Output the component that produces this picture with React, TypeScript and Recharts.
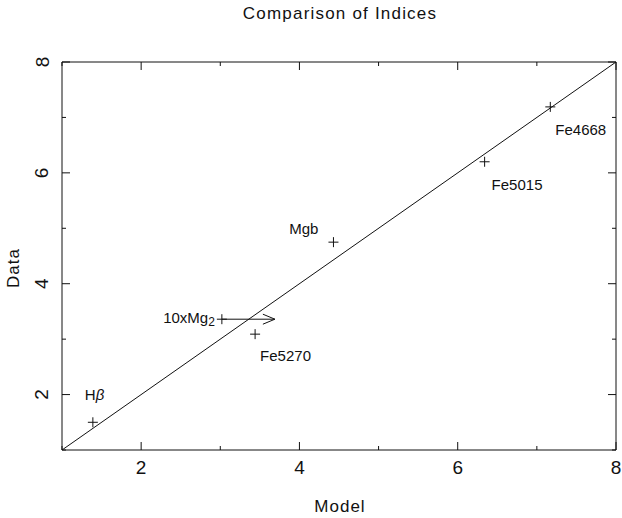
import React from 'react';
import { ComposedChart, Scatter, XAxis, YAxis } from 'recharts';

const indexNames = ['Hβ', '10xMg2', 'Fe5270', 'Mgb', 'Fe5015', 'Fe4668'];
const modelValues = [1.39, 3.02, 3.44, 4.43, 6.34, 7.17];
const dataValues = [1.5, 3.36, 3.09, 4.75, 6.2, 7.19];
const mg2ArrowEnd = 3.69;
const axisTicks = [1, 2, 3, 4, 5, 6, 7, 8];
const axisDomain = [1, 8];

const points = indexNames.map((name, i) => ({ name, x: modelValues[i], y: dataValues[i] }));
const diagonal = [
  { x: axisDomain[0], y: axisDomain[0] },
  { x: axisDomain[1], y: axisDomain[1] },
];
const mgIdx = indexNames.indexOf('10xMg2');
const arrow = [
  { x: modelValues[mgIdx], y: dataValues[mgIdx], head: false },
  { x: mg2ArrowEnd, y: dataValues[mgIdx], head: true },
];

// label placement relative to each cross
const labelPos: Record<string, { dx: number; dy: number; anchor: string }> = {
  'Hβ': { dx: -8, dy: -28, anchor: 'start' },
  '10xMg2': { dx: -7, dy: -2, anchor: 'end' },
  Fe5270: { dx: 5, dy: 21, anchor: 'start' },
  Mgb: { dx: -15, dy: -14, anchor: 'end' },
  Fe5015: { dx: 7, dy: 23, anchor: 'start' },
  Fe4668: { dx: 5, dy: 23, anchor: 'start' },
};

const FONT = '"Liberation Sans", Arial, sans-serif';
const INK = '#111';

const tickLen = (v: number) => (v % 2 === 0 ? 8 : 4);

const BottomTick = (props: any) => {
  const { x, y, payload } = props;
  const v = payload.value;
  return (
    <g>
      <line x1={x} y1={y} x2={x} y2={y - tickLen(v)} stroke={INK} />
      {v % 2 === 0 && (
        <text x={x} y={y + 17} textAnchor="middle" dominantBaseline="central" fontSize={19} fill={INK} fontFamily={FONT}>
          {v}
        </text>
      )}
    </g>
  );
};

const TopTick = (props: any) => {
  const { x, y, payload } = props;
  return <line x1={x} y1={y} x2={x} y2={y + tickLen(payload.value)} stroke={INK} />;
};

const LeftTick = (props: any) => {
  const { x, y, payload } = props;
  const v = payload.value;
  return (
    <g>
      <line x1={x} y1={y} x2={x + tickLen(v)} y2={y} stroke={INK} />
      {v % 2 === 0 && (
        <text
          x={x - 20}
          y={y}
          transform={`rotate(-90 ${x - 20} ${y})`}
          textAnchor="middle"
          dominantBaseline="central"
          fontSize={19}
          fill={INK}
          fontFamily={FONT}
        >
          {v}
        </text>
      )}
    </g>
  );
};

const RightTick = (props: any) => {
  const { x, y, payload } = props;
  return <line x1={x} y1={y} x2={x - tickLen(payload.value)} y2={y} stroke={INK} />;
};

const CrossShape = (props: any) => {
  const { cx, cy, payload } = props;
  const pos = labelPos[payload.name];
  const tx = cx + pos.dx;
  const ty = cy + pos.dy;
  let label: React.ReactNode = payload.name;
  if (payload.name === 'Hβ') {
    label = (
      <>
        H<tspan fontStyle="italic">β</tspan>
      </>
    );
  } else if (payload.name === '10xMg2') {
    label = (
      <>
        10xMg
        <tspan fontSize={12} dy={5}>
          2
        </tspan>
      </>
    );
  }
  return (
    <g>
      <line x1={cx - 5} y1={cy} x2={cx + 5} y2={cy} stroke={INK} />
      <line x1={cx} y1={cy - 5} x2={cx} y2={cy + 5} stroke={INK} />
      <text x={tx} y={ty} textAnchor={pos.anchor as any} dominantBaseline="central" fontSize={15} fill={INK} fontFamily={FONT}>
        {label}
      </text>
    </g>
  );
};

const ArrowHead = (props: any) => {
  const { cx, cy, payload } = props;
  if (!payload.head) return <g />;
  return <polyline points={`${cx - 12},${cy - 5} ${cx},${cy} ${cx - 12},${cy + 5}`} fill="none" stroke={INK} />;
};

const NoShape = () => <g />;

const textBase: React.CSSProperties = {
  position: 'absolute',
  fontFamily: FONT,
  color: INK,
  whiteSpace: 'nowrap',
  lineHeight: '20px',
};

export default function App() {
  return (
    <div style={{ position: 'absolute', left: 0, top: 0, width: 622, height: 518, background: '#fff' }}>
      <ComposedChart width={622} height={518} margin={{ top: 61, right: 5, bottom: 38, left: 22 }}>
        <XAxis
          xAxisId="b"
          type="number"
          dataKey="x"
          domain={axisDomain}
          ticks={axisTicks}
          allowDataOverflow
          height={30}
          tickSize={0}
          tickMargin={0}
          tickLine={false}
          axisLine={{ stroke: INK }}
          tick={<BottomTick />}
          interval={0}
        />
        <XAxis
          xAxisId="t"
          orientation="top"
          type="number"
          dataKey="x"
          domain={axisDomain}
          ticks={axisTicks}
          allowDataOverflow
          height={1}
          tickSize={0}
          tickMargin={0}
          tickLine={false}
          axisLine={{ stroke: INK }}
          tick={<TopTick />}
          interval={0}
        />
        <YAxis
          yAxisId="l"
          type="number"
          dataKey="y"
          domain={axisDomain}
          ticks={axisTicks}
          allowDataOverflow
          width={40}
          tickSize={0}
          tickMargin={0}
          tickLine={false}
          axisLine={{ stroke: INK }}
          tick={<LeftTick />}
          interval={0}
        />
        <YAxis
          yAxisId="r"
          orientation="right"
          type="number"
          dataKey="y"
          domain={axisDomain}
          ticks={axisTicks}
          allowDataOverflow
          width={1}
          tickSize={0}
          tickMargin={0}
          tickLine={false}
          axisLine={{ stroke: INK }}
          tick={<RightTick />}
          interval={0}
        />
        <Scatter
          xAxisId="b"
          yAxisId="l"
          data={diagonal}
          line={{ stroke: INK, strokeWidth: 1 }}
          shape={<NoShape />}
          isAnimationActive={false}
        />
        <Scatter
          xAxisId="b"
          yAxisId="l"
          data={arrow}
          line={{ stroke: INK, strokeWidth: 1 }}
          shape={<ArrowHead />}
          isAnimationActive={false}
        />
        <Scatter xAxisId="b" yAxisId="l" data={points} shape={<CrossShape />} isAnimationActive={false} />
      </ComposedChart>
      <div style={{ ...textBase, left: 0, width: 680, top: 4, textAlign: 'center', fontSize: 17, letterSpacing: 1.2 }}>
        Comparison of Indices
      </div>
      <div style={{ ...textBase, left: 0, width: 680, top: 497, textAlign: 'center', fontSize: 17, letterSpacing: 1 }}>
        Model
      </div>
      <div
        style={{
          ...textBase,
          left: 14,
          top: 268,
          fontSize: 17,
          letterSpacing: 1,
          transform: 'translate(-50%, -50%) rotate(-90deg)',
        }}
      >
        Data
      </div>
    </div>
  );
}
